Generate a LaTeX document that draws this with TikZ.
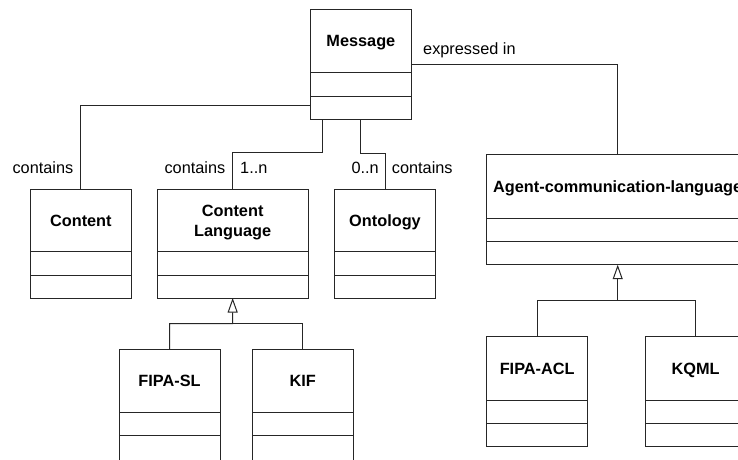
\documentclass[tikz,border=0pt]{standalone}
\usepackage{fontspec}
\setmainfont{Liberation Sans}
\usetikzlibrary{arrows.meta}

% UML class box: #1 name, #2 left, #3 top, #4 right, #5 bottom,
% #6 first divider, #7 second divider, #8 class name, #9 extra name options
\newcommand\umlclass[9]{%
  \pgfmathsetmacro\clsw{#4-#2}%
  \pgfmathsetmacro\clsh{#5-#3}%
  \node[classbox, minimum width=\clsw pt, minimum height=\clsh pt,
        anchor=north west] (#1) at (#2,#3) {};
  \draw[umlline] (#1.west |- 0,#6) -- (#1.east |- 0,#6);
  \draw[umlline] (#1.west |- 0,#7) -- (#1.east |- 0,#7);
  \node[classname, #9] (#1-name) at ({(#2+#4)/2},{(#3+#6)/2}) {#8};
}

\tikzset{
  umlline/.style={draw=black!85, line width=1pt},
  classbox/.style={umlline, rectangle, inner sep=0pt, outer sep=0pt},
  classname/.style={font=\fontsize{16.3}{20}\selectfont\bfseries, align=center,
                    text height=11.7pt, text depth=0pt, inner sep=0pt},
  twolines/.style={text height=31.7pt},
  rolelabel/.style={font=\fontsize{16.3}{20}\selectfont, inner sep=0pt},
  assoc/.style={umlline},
  generalization/.style={umlline, -{Triangle[open, length=14.5pt, width=10pt]}},
}

\begin{document}
\begin{tikzpicture}[x=1pt, y=-1pt]
\useasboundingbox (0,0) rectangle (738,459);
\fill[white] (0,0) rectangle (738,459);
\clip (0,0) rectangle (738,459);

% classes
\umlclass{msg}{310}{9.5}{411.7}{119}{72.7}{96.7}{Message}{}
\umlclass{content}{30}{189}{131.7}{298}{251.7}{275.3}{Content}{}
\umlclass{cl}{157.3}{189}{308}{298}{251.7}{275.3}{Content\\Language}{twolines}
\umlclass{onto}{334.3}{189}{435.7}{298}{251.7}{275.3}{Ontology}{}
\umlclass{acl}{486.7}{154.7}{748.7}{264.7}{218.3}{241.7}{Agent-communication-language}{}
\umlclass{fipasl}{119}{349.3}{220}{462}{412.7}{435.7}{FIPA-SL}{}
\umlclass{kif}{252.3}{349.3}{353.3}{462}{412.7}{435.7}{KIF}{}
\umlclass{fipaacl}{486.7}{336.7}{587.7}{446}{400}{423.3}{FIPA-ACL}{}
\umlclass{kqml}{645}{336.7}{746.4}{446}{400}{423.3}{KQML}{}

% bend points of the connectors
\coordinate (cbend) at (81,105.3);
\coordinate (clbend) at (322.7,152.7);
\coordinate (ontobend) at (360.7,153.3);
\coordinate (aclbend) at (617.7,64.3);
\coordinate (cljoin) at (232.7,323.7);
\coordinate (acljoin) at (617.7,300);

% associations from Message
\draw[assoc] (msg.west |- cbend) -| (content.north);
\draw[assoc] (msg.south -| clbend) -- (clbend) -| (cl.north);
\draw[assoc] (msg.south -| ontobend) -- (ontobend) -| (onto.north);
\draw[assoc] (msg.east |- aclbend) -| (acl.north);

% generalizations
\draw[generalization] (fipasl.north) |- (cljoin) -- (cl.south);
\draw[assoc] (kif.north) |- (cljoin);
\draw[generalization] (fipaacl.north) |- (acljoin) -- (acl.south);
\draw[assoc] (kqml.north) |- (acljoin);

% role names and multiplicities
\node[rolelabel, anchor=base west] (lexp) at (423,54) {expressed in};
\node[rolelabel, anchor=base east] (lc1) at (73.5,173.3) {contains};
\node[rolelabel, anchor=base east] (lc2) at (225.5,173.3) {contains};
\node[rolelabel, anchor=base west] (lm1) at (240,173.3) {1..n};
\node[rolelabel, anchor=base east] (lm2) at (379,173.3) {0..n};
\node[rolelabel, anchor=base west] (lc3) at (391.7,173.3) {contains};
\end{tikzpicture}
\end{document}
